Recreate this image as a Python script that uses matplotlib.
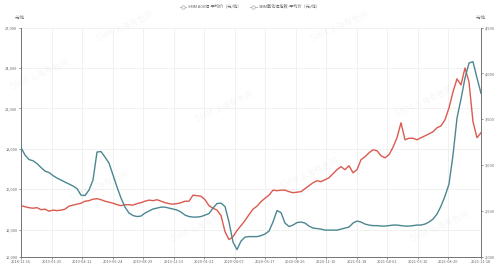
import numpy as np
import matplotlib
matplotlib.use('Agg')
import matplotlib.pyplot as plt
from matplotlib.lines import Line2D

plt.rcParams['font.family'] = ['Noto Sans CJK SC', 'DejaVu Sans']

# weekly-ish samples, 2018-11-16 .. 2021-11-18
a00_price = [13780, 13700, 13630, 13590, 13630, 13480, 13520, 13370, 13450, 13410,
             13450, 13520, 13740, 13820, 13890, 13960, 14110, 14150, 14260, 14300,
             14220, 14110, 14040, 13960, 13850, 13780, 13850, 13850, 13820, 13930,
             14000, 14110, 14190, 14150, 14220, 14110, 14000, 13930, 13890, 13930,
             14000, 14110, 14110, 14560, 14520, 14480, 14220, 13780, 13590, 13450,
             13040, 11850, 11260, 11480, 11930, 12300, 12670, 13110, 13520, 13740,
             14080, 14330, 14560, 14930, 14890, 14930, 14930, 14820, 14740, 14780,
             14820, 15040, 15260, 15480, 15630, 15560, 15700, 15850, 16150, 16450,
             16670, 16450, 16740, 16220, 16450, 17190, 17410, 17700, 17930, 17850,
             17480, 17330, 17560, 18110, 18820, 19930, 18670, 18780, 18780, 18670,
             18820, 18960, 19110, 19260, 19560, 19700, 20150, 21040, 22220, 23190,
             22740, 24000, 22960, 20000, 18820, 19190]

alumina_idx = [3190, 3108, 3059, 3046, 3015, 2972, 2933, 2917, 2884, 2857,
               2835, 2813, 2792, 2770, 2742, 2671, 2666, 2726, 2835, 3141,
               3146, 3086, 3021, 2890, 2759, 2639, 2540, 2475, 2448, 2437,
               2442, 2475, 2497, 2519, 2529, 2540, 2540, 2529, 2519, 2508,
               2486, 2453, 2437, 2431, 2431, 2437, 2453, 2469, 2529, 2579,
               2584, 2546, 2377, 2158, 2076, 2169, 2213, 2218, 2218, 2218,
               2229, 2246, 2278, 2377, 2502, 2480, 2366, 2328, 2344, 2371,
               2377, 2366, 2333, 2311, 2306, 2300, 2289, 2289, 2289, 2289,
               2300, 2311, 2322, 2366, 2388, 2377, 2355, 2344, 2338, 2338,
               2333, 2333, 2338, 2344, 2344, 2338, 2333, 2333, 2338, 2344,
               2344, 2355, 2377, 2409, 2464, 2551, 2660, 2792, 3108, 3512,
               3719, 3949, 4112, 4127, 3949, 3782]

date_labels = ['2018-11-16', '2019-01-25', '2019-04-11', '2019-06-24', '2019-08-29',
               '2019-11-13', '2020-01-21', '2020-04-07', '2020-06-17', '2020-08-26',
               '2020-11-10', '2021-01-18', '2021-04-01', '2021-06-10', '2021-08-20',
               '2021-11-18']

left_ticks = [10000, 12000, 15000, 18000, 21000, 24000, 27000]
right_ticks = [2000, 2500, 3000, 3500, 4000, 4500]

red = '#dc5a4f'
teal = '#4b8791'
txt = '#666666'

n = len(a00_price)
x = np.arange(n)
tick_pos = [7.625 * i for i in range(len(date_labels) - 1)] + [n - 1]

fig = plt.figure(figsize=(5, 2.67), dpi=100)
ax = fig.add_axes([0.042, 0.039, 0.92, 0.858])
ax2 = ax.twinx()

ax.plot(x, a00_price, color=red, lw=1.0, zorder=3)
ax2.plot(x, alumina_idx, color=teal, lw=1.0, zorder=3)

ax.set_xlim(0, n - 1)
ax.set_ylim(10000, 27000)
ax2.set_ylim(2000, 4500)

ax.set_xticks(tick_pos)
ax.set_xticklabels(date_labels)
ax.set_yticks(left_ticks)
ax.set_yticklabels([f'{v:,}' for v in left_ticks])
ax2.set_yticks(right_ticks)
ax2.set_yticklabels([f'{v:,}' for v in right_ticks])

for a in (ax, ax2):
    a.tick_params(labelsize=2.8, colors=txt, length=1.5, width=0.5, pad=1)
    a.spines['top'].set_visible(False)
    for s in ('left', 'right', 'bottom'):
        a.spines[s].set_color('#777777')
        a.spines[s].set_linewidth(0.7)

ax.grid(True, color='#ececec', lw=0.5)
ax.set_axisbelow(True)

fig.text(0.04, 0.93, '元/吨', fontsize=3, color=txt, ha='center')
fig.text(0.962, 0.93, '元/吨', fontsize=3, color=txt, ha='center')

# faint watermarks
for wx, wy in [(0.08, 0.72), (0.25, 0.9), (0.68, 0.9), (0.2, 0.3), (0.45, 0.6),
               (0.62, 0.35), (0.85, 0.62), (0.88, 0.15), (0.4, 0.15)]:
    fig.text(wx, wy, 'SMM 上海有色网', fontsize=6, color='#000000', alpha=0.04,
             rotation=25, ha='center', va='center')

handles = [Line2D([], [], color='#aaaaaa', lw=0.6, marker='o', ms=2.5,
                  mfc='white', mew=0.5),
           Line2D([], [], color='#aaaaaa', lw=0.6, marker='o', ms=2.5,
                  mfc='white', mew=0.5)]
fig.legend(handles, ['SMM A00铝-平均价（元/吨）', 'SMM氧化铝指数-平均价（元/吨）'],
           loc='center', bbox_to_anchor=(0.5, 0.975), ncol=2, frameon=False,
           fontsize=3, labelcolor=txt, handlelength=1.6, columnspacing=2,
           handletextpad=0.5)

fig.savefig('out.png', dpi=100)
